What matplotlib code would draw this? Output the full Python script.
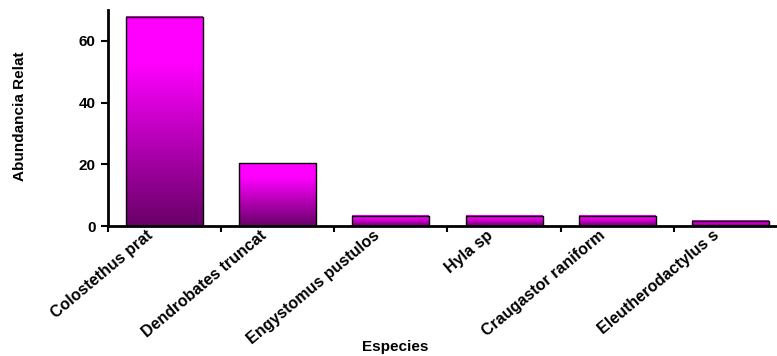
import numpy as np
import matplotlib.pyplot as plt
from matplotlib.colors import LinearSegmentedColormap

# data (percent of individuals per species)
especies = ['Colostethus prat', 'Dendrobates truncat', 'Engystomus pustulos',
            'Hyla sp', 'Craugastor raniform', 'Eleutherodactylus s']
abundancia = [67.8, 20.3, 3.39, 3.39, 3.39, 1.69]
y_ticks = [0, 20, 40, 60]

plt.rcParams['font.family'] = ['Liberation Sans', 'DejaVu Sans']
plt.rcParams['font.weight'] = 'bold'

fig = plt.figure(figsize=(7.77, 3.56), dpi=100)
ax = fig.add_axes([108 / 777, 130 / 356, 679 / 777, 216 / 356])

# dark purple at the bottom -> magenta at the top
cmap = LinearSegmentedColormap.from_list('mag', [(0, '#680068'), (0.78, '#ff00ff'), (1, '#ff00ff')])
grad = np.linspace(0, 1, 256).reshape(-1, 1)

x = np.arange(len(especies))
w = 0.68
bars = ax.bar(x, abundancia, width=w, facecolor='none', edgecolor='black', linewidth=1, zorder=3)
for b in bars:
    x0, h = b.get_x(), b.get_height()
    ax.imshow(grad, extent=[x0, x0 + w, 0, h], origin='lower', aspect='auto',
              cmap=cmap, zorder=2, interpolation='bilinear')

ax.set_xlim(-0.5, len(especies) - 0.5)
ax.set_ylim(0, 70)
ax.set_yticks(y_ticks)
ax.tick_params(axis='y', direction='out', length=5, width=1.5, labelsize=11, pad=4)

# tick marks between categories, labels placed separately
ax.set_xticks(np.arange(len(especies) + 1) - 0.5)
ax.set_xticklabels([])
ax.tick_params(axis='x', direction='out', length=4, width=1.5)
for i, name in enumerate(especies):
    ax.text(i - 0.12, -0.035, name, transform=ax.get_xaxis_transform(),
            rotation=40, rotation_mode='anchor', ha='right', va='center',
            fontsize=11.5, fontweight='bold')

for s in ['top', 'right']:
    ax.spines[s].set_visible(False)
ax.spines['left'].set_linewidth(2)
ax.spines['bottom'].set_linewidth(2)

fig.text(20 / 777, 1 - 116 / 356, 'Abundancia Relat', rotation=90, ha='center', va='center',
         fontsize=11, fontweight='bold')
fig.text(395 / 777, 1 - 347 / 356, 'Especies', ha='center', va='center',
         fontsize=11, fontweight='bold')

fig.savefig('out.png', dpi=100)
